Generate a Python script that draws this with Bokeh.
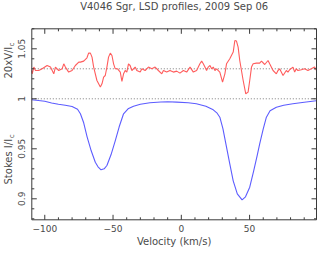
import numpy as np
from bokeh.plotting import figure
from bokeh.models import Range1d
from bokeh.core.properties import value
from bokeh.embed import file_html
from bokeh.resources import INLINE

title_text = "V4046 Sgr, LSD profiles, 2009 Sep 06"
x_title = "Velocity (km/s)"
y_title_v = "20xV/I"
y_title_i = "Stokes I/I"
y_sub = "c"

# Stokes I profile (velocity km/s, I/Ic)
vel_i = [-109.5, -100, -95, -90, -85, -80, -76, -73.9, -71.5, -69, -66, -63, -61,
         -58.8, -56.5, -54.5, -51.5, -48.4, -45.5, -42.3, -39, -35, -30, -23, -15,
         -10, -3.4, 5, 11, 18, 23.4, 26, 28.2, 30.5, 33.1, 35.5, 38, 41, 44.5, 47,
         50.1, 53, 55.5, 57.4, 60, 62.3, 65, 69.6, 75, 81.7, 90, 98.8]
stokes_i = [0.9990, 0.9975, 0.9958, 0.9945, 0.9935, 0.9923, 0.9895, 0.985, 0.976,
            0.962, 0.948, 0.9366, 0.932, 0.929, 0.930, 0.9333, 0.944, 0.958, 0.972,
            0.985, 0.990, 0.9926, 0.9945, 0.996, 0.9968, 0.997, 0.9967, 0.996,
            0.995, 0.9925, 0.989, 0.986, 0.9816, 0.970, 0.9516, 0.935, 0.918, 0.905,
            0.899, 0.902, 0.9116, 0.928, 0.943, 0.955, 0.970, 0.9816, 0.988, 0.9916,
            0.9935, 0.995, 0.9965, 0.998]

# Stokes V profile (velocity km/s, 20 x V/Ic), plotted offset by 1.03
vel_v = [-109.5, -109.2, -108.0, -106.8, -104.4, -101.9, -98.3, -95.8, -93.4, -92.2,
         -89.8, -87.3, -86.1, -84.9, -82.5, -80.0, -77.6, -75.1, -73.9, -71.5, -69.1,
         -67.9, -66.6, -65.4, -64.2, -61.8, -59.3, -58.1, -56.9, -55.7, -54.5, -53.3,
         -52.0, -50.8, -49.6, -48.4, -46.7, -44.7, -43.5, -42.3, -41.1, -39.9, -38.7,
         -37.5, -36.2, -33.8, -32.6, -30.1, -28.9, -26.5, -24.1, -21.6, -19.2, -16.8,
         -14.3, -13.1, -10.7, -8.3, -5.8, -3.4, -1.0, 1.5, 3.9, 6.4, 8.8, 11.2, 13.6,
         14.9, 16.1, 17.3, 18.5, 19.7, 21.0, 22.2, 23.4, 24.6, 25.8, 28.2, 30.2, 31.9,
         33.1, 35.5, 38.0, 39.2, 40.4, 41.6, 42.8, 45.3, 47.2, 48.9, 50.1, 51.4, 52.6,
         55.0, 57.4, 58.7, 61.1, 63.5, 64.7, 67.2, 69.6, 70.8, 72.0, 74.5, 76.9, 78.1,
         79.3, 81.8, 83.0, 84.2, 85.4, 87.9, 90.3, 92.7, 95.2, 97.6, 99.0]
v20 = [-0.0017, -0.005, 0.0017, -0.0017, -0.0017, 0.0, 0.0033, 0.0017, -0.005, 0.0017,
       -0.0017, 0.0, 0.005, 0.0017, -0.0033, -0.0017, 0.0033, 0.0067, 0.0067, 0.0077,
       0.011, 0.0157, 0.0157, 0.0117, 0.0017, -0.0117, -0.0183, -0.015, -0.0083,
       -0.0067, 0.0017, 0.0117, 0.0157, 0.0133, 0.005, 0.0, 0.0, -0.0033, -0.0127,
       -0.005, -0.0017, -0.0033, 0.005, 0.0033, -0.0017, 0.0017, -0.0017, -0.0033, 0.0,
       -0.0017, 0.0017, 0.0, 0.0017, -0.0017, -0.005, -0.0017, -0.0033, -0.0017,
       -0.0033, -0.0023, -0.0043, -0.0017, -0.0033, 0.0017, -0.0033, -0.0017, 0.005,
       0.0077, 0.005, 0.0017, -0.0017, 0.0017, 0.0033, 0.0, 0.0017, -0.0017, 0.0,
       -0.0033, -0.0133, -0.005, 0.005, 0.010, 0.0167, 0.0283, 0.0277, 0.0217, 0.0083,
       -0.0117, -0.025, -0.0233, -0.0117, 0.0017, 0.005, 0.0057, 0.0057, 0.0077,
       0.0043, 0.0083, 0.005, -0.0017, -0.005, -0.0017, 0.0, -0.0067, -0.0017, -0.0033,
       -0.001, 0.0017, -0.0033, 0.0, -0.0017, -0.001, 0.0, -0.0017, 0.0, 0.0017, -0.0017]
v_offset = 1.03
ref_levels = [1.0, v_offset]

x_major = [-100, -50, 0, 50]
x_minor = [t for t in range(-100, 100, 10) if t not in x_major]
y_major = [0.9, 0.95, 1.0, 1.05]
y_minor = [round(0.88 + 0.01 * k, 2) for k in range(20)]
y_minor = [t for t in y_minor if all(abs(t - m) > 1e-9 for m in y_major)]

xr = (-109.5, 99.0)     # plotted velocity window
yr = (0.879, 1.070)     # plotted intensity window

W, H = 318, 255
BOX_L, BOX_R, BOX_T, BOX_B = 31.3, 316.0, 28.3, 219.3   # frame box in pixels

TXT = "#4a4a4a"
AX = "#3a3a3a"
FONT = "DejaVu Sans"

sx = (BOX_R - BOX_L) / (xr[1] - xr[0])
sy = (BOX_B - BOX_T) / (yr[1] - yr[0])
x0 = xr[0] - BOX_L / sx
x1 = xr[1] + (W - BOX_R) / sx
y1 = yr[1] + BOX_T / sy
y0 = yr[0] - (H - BOX_B) / sy

def dx(px):
    return px / sx

def dy(px):
    return px / sy

def X(px):
    return x0 + px / sx

def Y(py):
    return y1 - py / sy

p = figure(width=W, height=H, output_backend="svg", toolbar_location=None,
           x_range=Range1d(x0, x1), y_range=Range1d(y0, y1),
           x_axis_location=None, y_axis_location=None, min_border=0)
p.outline_line_color = None
p.grid.visible = False
p.background_fill_color = "white"
p.border_fill_color = "white"

# reference dotted levels
p.segment(x0=[xr[0]] * len(ref_levels), x1=[xr[1]] * len(ref_levels),
          y0=ref_levels, y1=ref_levels, line_color="#7a7a7a", line_width=1,
          line_dash="1 2")

# profiles
p.line(vel_i, stokes_i, line_color="#5c5cff", line_width=1.1)
p.line(vel_v, [v_offset + v for v in v20], line_color="#ff5c5c", line_width=1.1)

# frame box
p.quad(left=[xr[0]], right=[xr[1]], bottom=[yr[0]], top=[yr[1]],
       fill_color=None, line_color=AX, line_width=1)

MAJ, MIN = 5, 2.5

def xticks(ticks, length):
    n = len(ticks)
    p.segment(x0=ticks, x1=ticks, y0=[yr[0]] * n, y1=[yr[0] + dy(length)] * n,
              line_color=AX, line_width=1)
    p.segment(x0=ticks, x1=ticks, y0=[yr[1]] * n, y1=[yr[1] - dy(length)] * n,
              line_color=AX, line_width=1)

def yticks(ticks, length):
    n = len(ticks)
    p.segment(x0=[xr[0]] * n, x1=[xr[0] + dx(length)] * n, y0=ticks, y1=ticks,
              line_color=AX, line_width=1)
    p.segment(x0=[xr[1]] * n, x1=[xr[1] - dx(length)] * n, y0=ticks, y1=ticks,
              line_color=AX, line_width=1)

xticks(x_major, MAJ)
xticks(x_minor, MIN)
yticks(y_major, MAJ)
yticks(y_minor, MIN)

def fmt(t):
    return f"{t:g}".replace("-", "\u2212")

# tick labels
p.text(x=x_major, y=[Y(228)] * len(x_major), text=[fmt(t) for t in x_major],
       text_font=value(FONT), text_font_size=value("9px"), text_color=TXT,
       text_align="center", text_baseline="middle")
p.text(x=[X(21)] * len(y_major), y=y_major, text=[fmt(t) for t in y_major],
       angle=np.pi / 2, text_font=value(FONT), text_font_size=value("9px"),
       text_color=TXT, text_align="center", text_baseline="middle")

# titles
p.text(x=[(xr[0] + xr[1]) / 2], y=[Y(6)], text=[title_text],
       text_font=value(FONT), text_font_size=value("10px"), text_color=TXT,
       text_align="center", text_baseline="middle")
p.text(x=[(xr[0] + xr[1]) / 2], y=[Y(241)], text=[x_title],
       text_font=value(FONT), text_font_size=value("10px"), text_color=TXT,
       text_align="center", text_baseline="middle")

def ylabel(main, bottom_px, width_px):
    p.text(x=[X(8)], y=[Y(bottom_px)], text=[main], angle=np.pi / 2,
           text_font=value(FONT), text_font_size=value("10px"), text_color=TXT,
           text_align="left", text_baseline="middle")
    p.text(x=[X(11)], y=[Y(bottom_px - width_px)], text=[y_sub], angle=np.pi / 2,
           text_font=value(FONT), text_font_size=value("7px"), text_color=TXT,
           text_align="left", text_baseline="middle")

ylabel(y_title_v, 78, 32)
ylabel(y_title_i, 184, 46.3)

open("out.html", "w").write(file_html(p, INLINE))
